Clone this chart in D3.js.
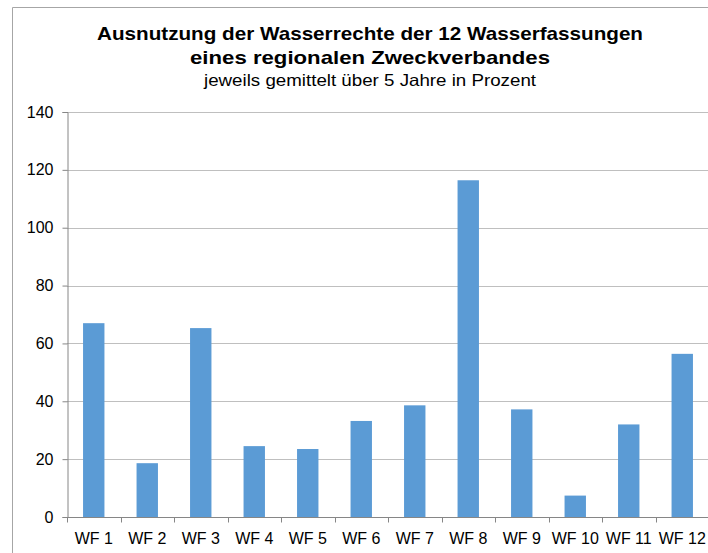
<!DOCTYPE html>
<html><head><meta charset="utf-8">
<script src="https://cdn.jsdelivr.net/npm/d3@7"></script>
<style>body{margin:0;background:#fff}svg{display:block}text{font-family:"Liberation Sans",Arial,sans-serif}</style>
</head><body><svg id="c" width="708" height="553"></svg>
<script>
const categories = ["WF 1","WF 2","WF 3","WF 4","WF 5","WF 6","WF 7","WF 8","WF 9","WF 10","WF 11","WF 12"];
const values = [67.0, 18.6, 65.3, 24.5, 23.5, 33.2, 38.6, 116.4, 37.2, 7.4, 32.0, 56.4];
const yTicks = [0, 20, 40, 60, 80, 100, 120, 140];
const titleLines = ["Ausnutzung der Wasserrechte der 12 Wasserfassungen", "eines regionalen Zweckverbandes"];
const subtitle = "jeweils gemittelt über 5 Jahre in Prozent";

(function () {
const svg = d3.select("#c");
const pL = 67, pR = 709, pT = 112, pB = 517;
const x = d3.scaleBand().domain(categories).range([pL, pR]).paddingInner(0.6).paddingOuter(0.3);
const xb = d3.scaleBand().domain(categories).range([pL, pR]);
const y = d3.scaleLinear().domain([0, 140]).range([pB, pT]);

// chart border
svg.append("path").attr("d", `M12.5,560 V7.5 H720`).attr("fill", "none").attr("stroke", "#a6a6a6").attr("stroke-width", 1);

// titles
const tl = [
  {t: titleLines[0], y: 40, fs: 19, fw: "bold", w: 546},
  {t: titleLines[1], y: 64, fs: 19, fw: "bold", w: 360},
  {t: subtitle, y: 86, fs: 16.5, fw: "normal", w: 332}
];
svg.append("g").selectAll("text").data(tl).join("text")
  .attr("x", 370).attr("y", d => d.y).attr("text-anchor", "middle")
  .attr("font-size", d => d.fs).attr("font-weight", d => d.fw).attr("fill", "#000")
  .attr("textLength", d => d.w).attr("lengthAdjust", "spacingAndGlyphs")
  .text(d => d.t);

// gridlines
svg.append("g").selectAll("line").data(yTicks.filter(d => d > 0)).join("line")
  .attr("x1", pL).attr("x2", pR).attr("y1", d => Math.round(y(d)) + 0.5).attr("y2", d => Math.round(y(d)) + 0.5)
  .attr("stroke", "#bfbfbf").attr("stroke-width", 1);

// y axis
const yAxis = d3.axisLeft(y).tickValues(yTicks).tickSize(5).tickPadding(9);
const gy = svg.append("g").attr("transform", `translate(${pL + 0.5},0)`).call(yAxis);
gy.select(".domain").attr("stroke", "#868686");
gy.selectAll(".tick line").attr("stroke", "#868686");
gy.selectAll(".tick text").attr("font-size", 16).attr("fill", "#000").attr("font-family", '"Liberation Sans",Arial,sans-serif');

// bars
svg.append("g").selectAll("rect").data(values).join("rect")
  .attr("x", (d, i) => x(categories[i])).attr("width", x.bandwidth())
  .attr("y", d => y(d)).attr("height", d => y(0) - y(d))
  .attr("fill", "#5b9bd5");

// x axis
const gx = svg.append("g").attr("transform", `translate(0,${Math.round(y(0)) + 0.5})`);
gx.append("line").attr("x1", pL).attr("x2", pR).attr("stroke", "#868686");
gx.selectAll(".tk").data(d3.range(categories.length + 1)).join("line").attr("class", "tk")
  .attr("x1", i => Math.round(pL + i * xb.step()) + 0.5).attr("x2", i => Math.round(pL + i * xb.step()) + 0.5)
  .attr("y1", 0).attr("y2", 5).attr("stroke", "#868686");
gx.selectAll("text.lbl").data(categories).join("text").attr("class", "lbl")
  .attr("x", d => xb(d) + xb.bandwidth() / 2).attr("y", 26).attr("text-anchor", "middle")
  .attr("font-size", 16).attr("fill", "#000").text(d => d);
})();
</script></body></html>
